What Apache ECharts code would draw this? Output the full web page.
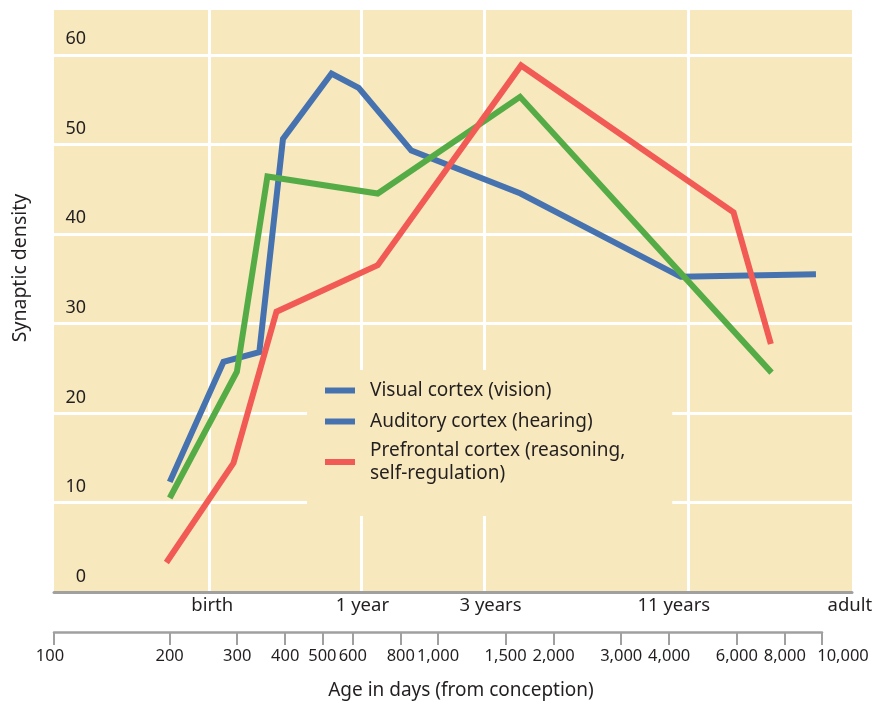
<!DOCTYPE html>
<html><head><meta charset="utf-8">
<script src="https://cdn.jsdelivr.net/npm/echarts@6/dist/echarts.min.js"></script>
<style>html,body{margin:0;padding:0;background:#fff}#c{width:876px;height:702px}</style>
</head><body><div id="c"></div>
<script>
// ---- data ----
const seriesNames = ['Visual cortex (vision)', 'Auditory cortex (hearing)', 'Prefrontal cortex (reasoning, self-regulation)'];
const visualDays = [200, 276, 342, 394, 527, 620, 850, 1635, 4268, 9590];
const visualDensity = [12.3, 25.7, 26.8, 50.6, 57.9, 56.3, 49.3, 44.5, 35.2, 35.5];
const auditoryDays = [200, 299, 359, 695, 1630, 7350];
const auditoryDensity = [10.5, 24.6, 46.4, 44.5, 55.3, 24.5];
const prefrontalDays = [196, 293, 379, 695, 1640, 5854, 7320];
const prefrontalDensity = [3.3, 14.4, 31.3, 36.5, 58.8, 42.4, 27.7];
const milestoneLabels = ['birth', '1 year', '3 years', '11 years', 'adult'];
const milestoneLabelDays = [258, 634, 1366, 4093, 11750];
const milestoneLineDays = [253, 630, 1318, 4450];
const dayTicks = [100, 200, 300, 400, 500, 600, 800, 1000, 1500, 2000, 3000, 4000, 6000, 8000, 10000];
const densityMin = 0, densityMax = 65, densityStep = 10;

// inner tick labels and the two end labels (the end labels sit slightly off their ticks)
const innerDayLabels = dayTicks.slice(1, -1);
const endDayLabels = [dayTicks[0], dayTicks[dayTicks.length - 1]];

// ---- style ----
const FONT = '"Noto Sans", "Open Sans", sans-serif';
const INK = '#231f20';
const BLUE = '#4672b0', GREEN = '#55ac47', RED = '#f15a55';
const BEIGE = '#f7e9bd';
const AXISGRAY = '#a0a0a0';

function zip(xs, ys) { return xs.map((x, i) => [x, ys[i]]); }
function fmt(n) { return Number(n).toLocaleString('en-US'); }
function nearest(arr, v) {
  if (typeof v !== 'number' || !isFinite(v)) return -1;
  const cands = [v];
  if (v > 0 && v < 10) cands.push(Math.pow(10, v));
  for (const c of cands) {
    for (let i = 0; i < arr.length; i++) {
      if (c > 0 && Math.abs(Math.log10(arr[i] / c)) < 0.005) return i;
    }
  }
  return -1;
}

const chart = echarts.init(document.getElementById('c'));
function lineSeries(name, xs, ys, color) {
  return {
    type: 'line', name: name, xAxisIndex: 0, yAxisIndex: 0,
    data: zip(xs, ys), symbol: 'none', silent: true,
    lineStyle: { color: color, width: 6, join: 'miter', cap: 'butt' },
    itemStyle: { color: color }
  };
}
function txt(size) { return { color: INK, fontSize: size, fontFamily: FONT, lineHeight: 19 }; }
const lowerGrid = { left: 54, width: 768, top: 631, height: 1, show: false };
chart.setOption({
  animation: false,
  textStyle: { fontFamily: FONT, color: INK },
  grid: [
    { left: 54, right: 24, top: 10, bottom: 110, show: true, backgroundColor: BEIGE, borderWidth: 0 },
    Object.assign({}, lowerGrid),
    Object.assign({}, lowerGrid)
  ],
  xAxis: [
    {
      type: 'log', logBase: 10, gridIndex: 0, min: 100, max: 11900,
      axisLine: { show: true, onZero: false, lineStyle: { color: AXISGRAY, width: 3 } },
      axisTick: { show: false, customValues: milestoneLineDays },
      minorTick: { show: false }, minorSplitLine: { show: false },
      splitLine: { show: true, lineStyle: { color: '#ffffff', width: 3 } },
      axisLabel: Object.assign({
        customValues: milestoneLabelDays,
        formatter: (v) => { const k = nearest(milestoneLabelDays, v); return k < 0 ? '' : milestoneLabels[k]; },
        margin: 4
      }, txt(18.5))
    },
    {
      type: 'log', logBase: 10, gridIndex: 1, min: 100, max: 10000, position: 'bottom',
      axisLine: { show: true, onZero: false, lineStyle: { color: AXISGRAY, width: 2.5 } },
      axisTick: { show: true, customValues: dayTicks, length: 13, lineStyle: { color: AXISGRAY, width: 2 } },
      minorTick: { show: false }, splitLine: { show: false },
      axisLabel: Object.assign({
        customValues: innerDayLabels,
        formatter: (v) => { const k = nearest(innerDayLabels, v); return k < 0 ? '' : fmt(innerDayLabels[k]); },
        margin: 15
      }, txt(16.5)),
      name: 'Age in days (from conception)', nameLocation: 'middle', nameGap: 49,
      nameTextStyle: { color: INK, fontSize: 19, fontFamily: FONT, padding: [0, 0, 0, 46] }
    },
    {
      type: 'log', logBase: 10, gridIndex: 2, min: 100, max: 10000, position: 'bottom',
      axisLine: { show: false }, axisTick: { show: false },
      minorTick: { show: false }, splitLine: { show: false },
      axisLabel: Object.assign({
        customValues: endDayLabels,
        showMinLabel: true, showMaxLabel: true,
        formatter: (v) => {
          const k = nearest(endDayLabels, v);
          if (k < 0) return '';
          return (k === 0 ? '{first|' : '{last|') + fmt(endDayLabels[k]) + '}';
        },
        margin: 15,
        rich: {
          first: Object.assign({ padding: [0, 8, 0, 0] }, txt(16.5)),
          last: Object.assign({ padding: [0, 0, 0, 42] }, txt(16.5))
        }
      }, txt(16.5))
    }
  ],
  yAxis: [
    {
      type: 'value', gridIndex: 0, min: densityMin, max: densityMax, interval: densityStep,
      axisLine: { show: false }, axisTick: { show: false },
      splitLine: { show: true, showMinLine: false, showMaxLine: false, lineStyle: { color: '#ffffff', width: 3 } },
      axisLabel: Object.assign({
        inside: true, align: 'right', verticalAlign: 'bottom', margin: 32,
        padding: [0, 0, 6, 0], showMaxLabel: false
      }, txt(18)),
      name: 'Synaptic density', nameLocation: 'middle', nameGap: 24,
      nameTextStyle: { color: INK, fontSize: 19.5, fontFamily: FONT, padding: [0, 0, 0, 66] }
    },
    { type: 'value', gridIndex: 1, min: 0, max: 1, show: false },
    { type: 'value', gridIndex: 2, min: 0, max: 1, show: false }
  ],
  legend: {
    orient: 'vertical', left: 307, top: 370, padding: [9, 47, 33, 18],
    backgroundColor: BEIGE, itemWidth: 30, itemHeight: 6, itemGap: 8, icon: 'rect',
    selectedMode: false, z: 10,
    formatter: name => name.replace(', ', ',\n'),
    textStyle: { fontSize: 19, color: INK, fontFamily: FONT, lineHeight: 23, height: 23, width: 252, padding: [0, 0, 0, 10] },
    itemStyle: { borderWidth: 0 },
    data: [
      { name: seriesNames[0], itemStyle: { color: BLUE } },
      { name: seriesNames[1], itemStyle: { color: BLUE } },
      { name: seriesNames[2], itemStyle: { color: RED } }
    ]
  },
  series: [
    lineSeries(seriesNames[0], visualDays, visualDensity, BLUE),
    lineSeries(seriesNames[1], auditoryDays, auditoryDensity, GREEN),
    lineSeries(seriesNames[2], prefrontalDays, prefrontalDensity, RED)
  ]
});
</script>
</body></html>
